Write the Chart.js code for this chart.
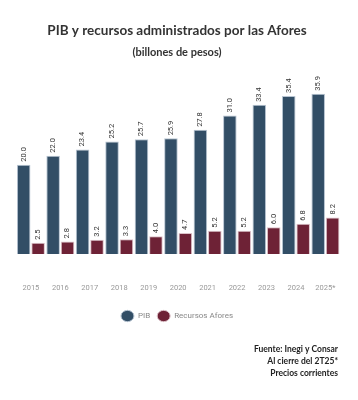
<!DOCTYPE html>
<html>
<head>
<meta charset="utf-8">
<script src="https://cdn.jsdelivr.net/npm/chart.js@4/dist/chart.umd.min.js"></script>
<style>
  html, body { margin: 0; padding: 0; background: #ffffff; }
  #wrap { position: relative; width: 358px; height: 400px; }
</style>
</head>
<body>
<div id="wrap"><canvas id="PIB_Chart"></canvas></div>
<script>
const years = ["2015", "2016", "2017", "2018", "2019", "2020", "2021", "2022", "2023", "2024", "2025*"];
const pib = [20.0, 22.0, 23.4, 25.2, 25.7, 25.9, 27.8, 31.0, 33.4, 35.4, 35.9];
const afores = [2.5, 2.8, 3.2, 3.3, 4.0, 4.7, 5.2, 5.2, 6.0, 6.8, 8.2];
const footerLines = ["Fuente: Inegi y Consar", "Al cierre del 2T25*", "Precios corrientes"];

// etiquetas verticales sobre cada barra
const barLabels = {
  id: "barLabels",
  afterDatasetsDraw(chart) {
    const ctx = chart.ctx;
    ctx.save();
    ctx.font = "7.5px Roboto";
    ctx.fillStyle = "#333333";
    ctx.textAlign = "left";
    ctx.textBaseline = "middle";
    chart.data.datasets.forEach((ds, i) => {
      chart.getDatasetMeta(i).data.forEach((bar, j) => {
        ctx.save();
        ctx.translate(bar.x, bar.y - 3);
        ctx.rotate(-Math.PI / 2);
        ctx.fillText(ds.data[j].toFixed(1), 0, 0);
        ctx.restore();
      });
    });
    ctx.restore();
  },
};

// fuente y notas abajo a la derecha
const footerNote = {
  id: "footerNote",
  afterDraw(chart) {
    const ctx = chart.ctx;
    ctx.save();
    ctx.font = "bold 8.5px Lato";
    ctx.fillStyle = "#222222";
    ctx.textAlign = "right";
    ctx.textBaseline = "middle";
    footerLines.forEach((t, i) => {
      ctx.fillText(t, 338, 349 + i * 12);
    });
    ctx.restore();
  },
};

new Chart(document.getElementById("PIB_Chart"), {
  type: "bar",
  data: {
    labels: years,
    datasets: [
      {
        label: "PIB",
        data: pib,
        backgroundColor: "#324e66",
        borderColor: "#b7c4d2",
        borderWidth: 1,
      },
      {
        label: "Recursos Afores",
        data: afores,
        backgroundColor: "#6e2236",
        borderColor: "#dcc2c9",
        borderWidth: 1,
      },
    ],
  },
  options: {
    responsive: true,
    maintainAspectRatio: false,
    animation: false,
    layout: { padding: { left: 12, right: 16, top: 23, bottom: 70 } },
    datasets: { bar: { barPercentage: 0.94, categoryPercentage: 0.98 } },
    plugins: {
      title: {
        display: true,
        text: "PIB y recursos administrados por las Afores",
        color: "#333333",
        font: { size: 13.5, family: "Lato", weight: "bold" },
        padding: { top: 0, bottom: 7 },
      },
      subtitle: {
        display: true,
        text: "(billones de pesos)",
        color: "#333333",
        font: { size: 11, family: "Lato", weight: "bold" },
        padding: { top: 0, bottom: 16 },
      },
      legend: {
        position: "bottom",
        labels: {
          usePointStyle: true,
          pointStyle: "circle",
          pointStyleWidth: 13,
          boxHeight: 8,
          color: "#888888",
          font: { size: 8, family: "Roboto" },
          padding: 7,
        },
      },
      tooltip: { enabled: false },
    },
    scales: {
      x: {
        grid: { display: false },
        border: { display: false },
        afterFit: (scale) => {
          scale.height -= 10;
        },
        ticks: {
          color: "#999999",
          font: { size: 7.5, family: "Roboto" },
          padding: 22,
          maxRotation: 0,
          minRotation: 0,
          autoSkip: false,
        },
      },
      y: {
        display: false,
        min: 0,
        max: 40,
      },
    },
  },
  plugins: [barLabels, footerNote],
});
</script>
</body>
</html>
